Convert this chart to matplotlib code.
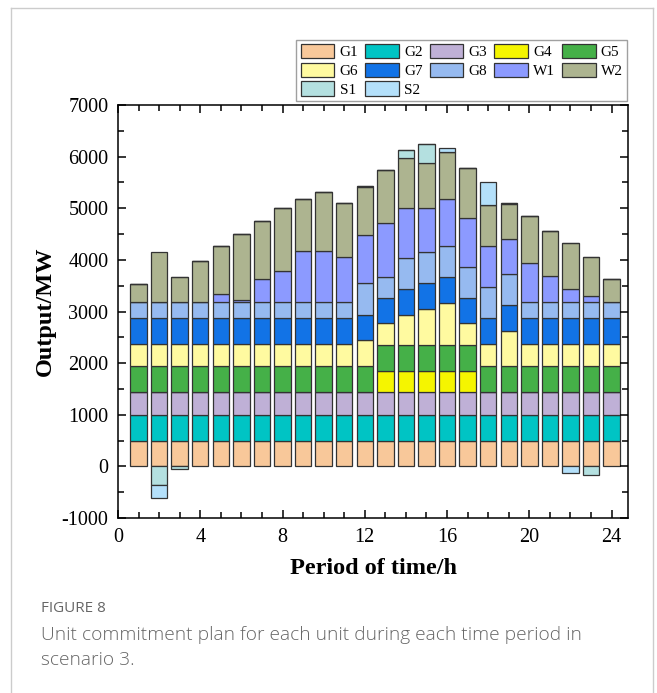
import numpy as np
import matplotlib.pyplot as plt
from matplotlib.ticker import MultipleLocator

# Periodes 1..24
hours = np.arange(1, 25)

# Sortie de chaque unite (MW)
G1 = [500] * 24
G2 = [500] * 24
G3 = [450] * 24
G4 = [0] * 12 + [400] * 5 + [0] * 7
G5 = [500] * 24
G6 = [420] * 11 + [490, 420, 580, 700, 810, 420, 420, 680] + [420] * 5
G7 = [500] * 24
G8 = [310] * 11 + [605, 390, 600, 595, 600, 595, 600, 600] + [310] * 5
W1 = [0, 0, 0, 0, 160, 50, 440, 600, 1000, 1000, 885, 935,
      1045, 970, 860, 910, 955, 795, 675, 760, 515, 260, 115, 0]
W2 = [355, 970, 495, 805, 925, 1270, 1130, 1225, 1000, 1135, 1030, 940,
      1045, 965, 865, 910, 955, 800, 680, 915, 860, 895, 770, 450]
S1 = [0, -355, -55, 0, 0, 0, 0, 0, 0, 0, 0, 20,
      0, 160, 375, 0, 0, 0, 15, 0, 0, 0, -165, 0]
S2 = [0, -260, 0, 0, 0, 0, 0, 0, 0, 0, 0, 0,
      0, 0, 0, 85, 0, 450, 0, 0, 0, -130, 0, 0]

names = ["G1", "G2", "G3", "G4", "G5", "G6", "G7", "G8", "W1", "W2", "S1", "S2"]
series = [G1, G2, G3, G4, G5, G6, G7, G8, W1, W2, S1, S2]
colors = ["#F8C89A", "#00C4C4", "#BFB0D6", "#F5F500", "#45B048", "#FFFAA0",
          "#1273E6", "#96BAF0", "#8C9AFF", "#ADB490", "#B4E0E0", "#B4E0FA"]

plt.rcParams["font.family"] = ["Liberation Serif", "DejaVu Serif"]
plt.rcParams["axes.unicode_minus"] = False

fig = plt.figure(figsize=(6.57, 6.93), dpi=100)
ax = fig.add_axes([0.1796, 0.2525, 0.7763, 0.596])

pos_bottom = np.zeros(24)
neg_bottom = np.zeros(24)
handles = {}
for name, vals, col in zip(names, series, colors):
    v = np.array(vals, dtype=float)
    bottom = np.where(v >= 0, pos_bottom, neg_bottom)
    b = ax.bar(hours, v, width=0.8, bottom=bottom, color=col,
               edgecolor="#333333", linewidth=0.9, label=name)
    handles[name] = b
    pos_bottom += np.where(v > 0, v, 0)
    neg_bottom += np.where(v < 0, v, 0)

ax.set_xlim(0, 24.8)
ax.set_ylim(-1000, 7000)
ax.xaxis.set_major_locator(MultipleLocator(4))
ax.xaxis.set_minor_locator(MultipleLocator(1))
ax.yaxis.set_major_locator(MultipleLocator(1000))
ax.yaxis.set_minor_locator(MultipleLocator(500))
ax.tick_params(which="both", direction="in", top=True, right=True,
               width=1.1, labelsize=14.5, pad=7)
ax.tick_params(which="major", length=6)
ax.tick_params(which="minor", length=4)
for s in ax.spines.values():
    s.set_linewidth(1.1)

ax.set_xlabel("Period of time/h", fontsize=17.5, fontweight="bold", labelpad=8)
ax.set_ylabel("Output/MW", fontsize=17.5, fontweight="bold", labelpad=4)

# ordre pour remplir la legende ligne par ligne
leg_order = ["G1", "G6", "S1", "G2", "G7", "S2", "G3", "G8", "G4", "W1", "G5", "W2"]
leg = fig.legend([handles[n] for n in leg_order], leg_order,
                 loc="upper right", bbox_to_anchor=(0.955, 0.943),
                 ncol=5, fontsize=11, frameon=True, fancybox=False,
                 handlelength=2.2, handleheight=1.05, handletextpad=0.35,
                 columnspacing=0.45, labelspacing=0.22, borderpad=0.3,
                 borderaxespad=0)
leg.get_frame().set_edgecolor("#888888")
leg.get_frame().set_linewidth(1.0)

# Cadre et legende de la figure
fig.add_artist(plt.Line2D([0.0175, 0.0175], [0, 0.988], color="#cccccc", lw=1))
fig.add_artist(plt.Line2D([0.994, 0.994], [0, 0.988], color="#cccccc", lw=1))
fig.add_artist(plt.Line2D([0.0175, 0.994], [0.988, 0.988], color="#cccccc", lw=1))

cap = dict(family=["Open Sans", "DejaVu Sans"], color="#666666")
fig.text(0.0624, 0.117, "FIGURE 8", fontsize=11, **cap)
fig.text(0.0624, 0.077, "Unit commitment plan for each unit during each time period in",
         fontsize=13.8, fontweight="light", **cap)
fig.text(0.0624, 0.041, "scenario 3.", fontsize=13.8, fontweight="light", **cap)

fig.savefig("out.png", dpi=100)
